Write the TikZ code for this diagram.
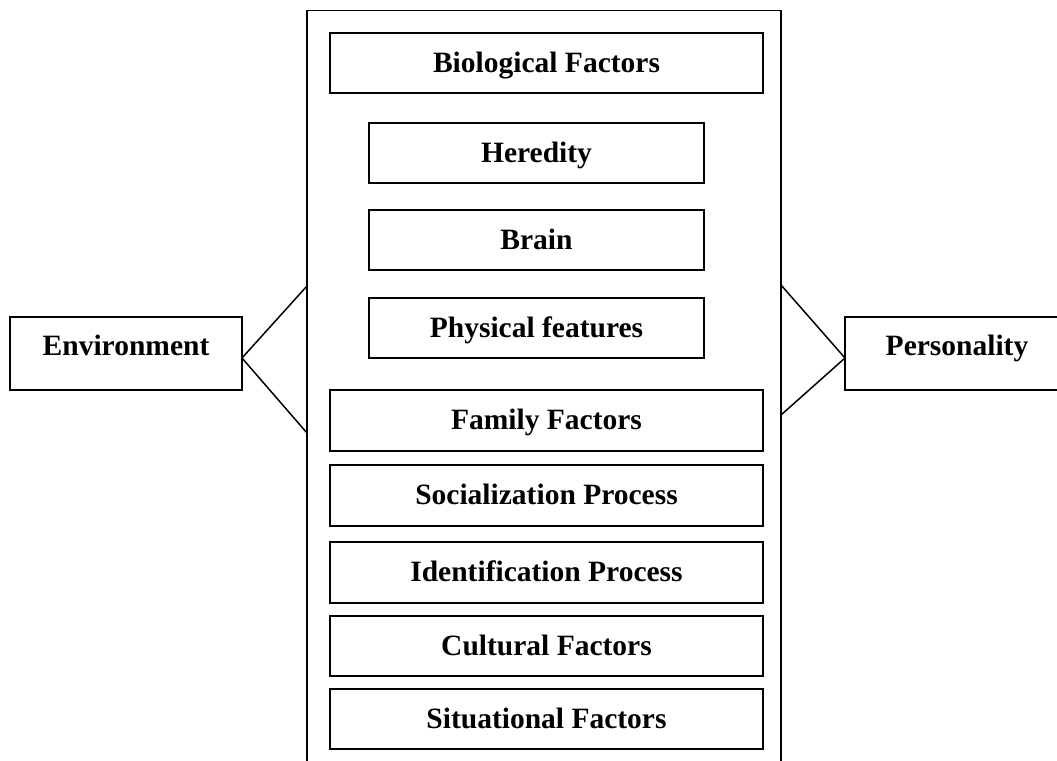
\documentclass[tikz,border=0pt]{standalone}
\usepackage{fontspec}
\setmainfont{Liberation Serif}
\begin{document}
\begin{tikzpicture}[x=1pt,y=-1pt,
  every node/.style={inner sep=0pt, outer sep=0pt},
  box/.style={draw, line width=1.5pt, anchor=north west,
    font=\fontsize{29.5}{35}\selectfont\bfseries,
    text height=39pt, text depth=21pt, align=center},
  wide/.style={box, minimum width=433pt},
  narrow/.style={box, minimum width=335pt},
  side/.style={box, text height=38pt, text depth=35pt},
  link/.style={line width=1.5pt}]
\useasboundingbox (0,0) rectangle (1057,760);
\clip (0,0) rectangle (1057,760);
\fill[white] (0,0) rectangle (1057,760);

% enclosing frame, running past the lower edge
\node[draw, line width=1.5pt, anchor=north west, minimum width=474pt,
      minimum height=800pt] (frame) at (307,10.7) {};

% biological factors and their parts
\node[wide]   (bio)   at (330,33)  {Biological Factors};
\node[narrow] (hered) at (369,123) {Heredity};
\node[narrow] (brain) at (369,210) {Brain};
\node[narrow] (phys)  at (369,298) {Physical features};

% environmental factors
\node[wide, text depth=22pt] (family) at (330,390) {Family Factors};
\node[wide, text depth=22pt] (social) at (330,465) {Socialization Process};
\node[wide, text depth=22pt] (ident)  at (330,542) {Identification Process};
\node[wide]   (cult)  at (330,616) {Cultural Factors};
\node[wide]   (situ)  at (330,689) {Situational Factors};

% side boxes
\node[side, minimum width=232pt] (env) at (10,317)  {Environment};
\node[side, minimum width=224pt] (pers) at (845,317) {Personality};

% where the wedges meet the frame
\coordinate (lu) at (307,286);
\coordinate (ld) at (307,433);
\coordinate (ru) at (781,285);
\coordinate (rd) at (781,415);

\draw[link] (lu) -- ([yshift=-4.5pt]env.east) -- (ld);
\draw[link] (ru) -- ([yshift=-4.5pt]pers.west) -- (rd);
\end{tikzpicture}
\end{document}
